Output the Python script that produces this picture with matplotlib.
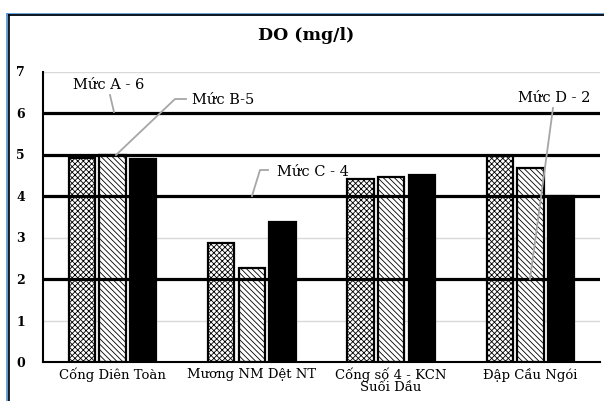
import matplotlib
matplotlib.use("Agg")
import matplotlib.pyplot as plt
from matplotlib.lines import Line2D
import numpy as np

categories = ["Cống Diên Toàn", "Mương NM Dệt NT", "Cống số 4 - KCN\nSuối Dầu", "Đập Cầu Ngói"]
series1 = [4.91, 2.87, 4.40, 4.96]
series2 = [5.00, 2.26, 4.45, 4.67]
series3 = [4.88, 3.38, 4.51, 4.00]
levels = [6, 5, 4, 2]
level_labels = ["Mức A - 6", "Mức B-5", "Mức C - 4", "Mức D - 2"]
yticks = [0, 1, 2, 3, 4, 5, 6, 7]
title = "DO (mg/l)"

plt.rcParams['hatch.linewidth'] = 0.6
SERIF = ['DejaVu Serif']

fig = plt.figure(figsize=(6.04, 4.01), dpi=100)
W, H = 604, 401
ax = fig.add_axes([43 / W, 1 - 362 / H, 557 / W, 290.5 / H])

x = np.arange(len(categories))
step = 0.22
bw = 0.19
ax.bar(x - step, series1, bw, facecolor='white', edgecolor='black', hatch='xxxxxx', linewidth=1.6, zorder=3)
ax.bar(x, series2, bw, facecolor='white', edgecolor='black', hatch='\\\\\\\\\\\\', linewidth=1.6, zorder=3)
ax.bar(x + step, series3, bw, facecolor='black', edgecolor='black', linewidth=1.6, zorder=3)

ax.set_xlim(-0.5, len(categories) - 0.5)
ax.set_ylim(0, 7)
ax.set_yticks(yticks)
ax.set_yticklabels([str(v) for v in yticks], fontfamily=SERIF, fontweight='bold', fontsize=9)
ax.set_xticks(x)
ax.set_xticklabels(categories, fontfamily=SERIF, fontsize=9.5, linespacing=0.85)
ax.tick_params(axis='y', length=0, pad=13)
ax.tick_params(axis='x', length=0, pad=4)
ax.grid(axis='y', color='#d9d9d9', linewidth=1, zorder=0)

for lv in levels:
    ax.axhline(lv, color='black', linewidth=2.3, zorder=4)

for s in ['top', 'right']:
    ax.spines[s].set_visible(False)
ax.spines['left'].set_linewidth(1.5)
ax.spines['bottom'].set_linewidth(1.5)
ax.spines['bottom'].set_zorder(5)

gray = '#a6a6a6'

def px(xp, yp):
    # figure pixel -> data
    inv = ax.transData.inverted()
    return inv.transform(fig.transFigure.transform((xp / W, 1 - yp / H)))

def leader(pts):
    d = [px(a, b) for a, b in pts]
    ax.plot([p[0] for p in d], [p[1] for p in d], color=gray, linewidth=1.3, zorder=6, clip_on=False)

FS = 10.5
# Mức A
leader([(110, 95), (114, 112)])
ax.text(*px(109, 85), level_labels[0], fontfamily=SERIF, fontsize=FS, ha='center', va='center', zorder=7)
# Mức B
leader([(186, 99), (175, 99), (116, 155)])
ax.text(*px(192, 100), level_labels[1], fontfamily=SERIF, fontsize=FS, ha='left', va='center', zorder=7)
# Mức C
leader([(268, 170), (260, 170), (252, 196)])
ax.text(*px(277, 172), level_labels[2], fontfamily=SERIF, fontsize=FS, ha='left', va='center', zorder=7)
# Mức D
leader([(553, 108), (530, 279)])
ax.text(*px(554, 98), level_labels[3], fontfamily=SERIF, fontsize=FS, ha='center', va='center', zorder=7)

fig.text(306 / W, 1 - 36 / H, title, fontfamily=SERIF, fontweight='bold', fontsize=12.5, ha='center', va='center')

# outer frame
fig.add_artist(Line2D([6.5 / W, 6.5 / W], [0, 1 - 13.5 / H], color='#5b9bd5', linewidth=2.0, transform=fig.transFigure))
fig.add_artist(Line2D([6.5 / W, 1], [1 - 13.5 / H, 1 - 13.5 / H], color='#5b9bd5', linewidth=2.0, transform=fig.transFigure))
fig.add_artist(Line2D([8.5 / W, 8.5 / W], [0, 1 - 15.2 / H], color='black', linewidth=1.2, transform=fig.transFigure))
fig.add_artist(Line2D([8.5 / W, 1], [1 - 15.2 / H, 1 - 15.2 / H], color='black', linewidth=1.2, transform=fig.transFigure))

fig.savefig("out.png", dpi=100)
